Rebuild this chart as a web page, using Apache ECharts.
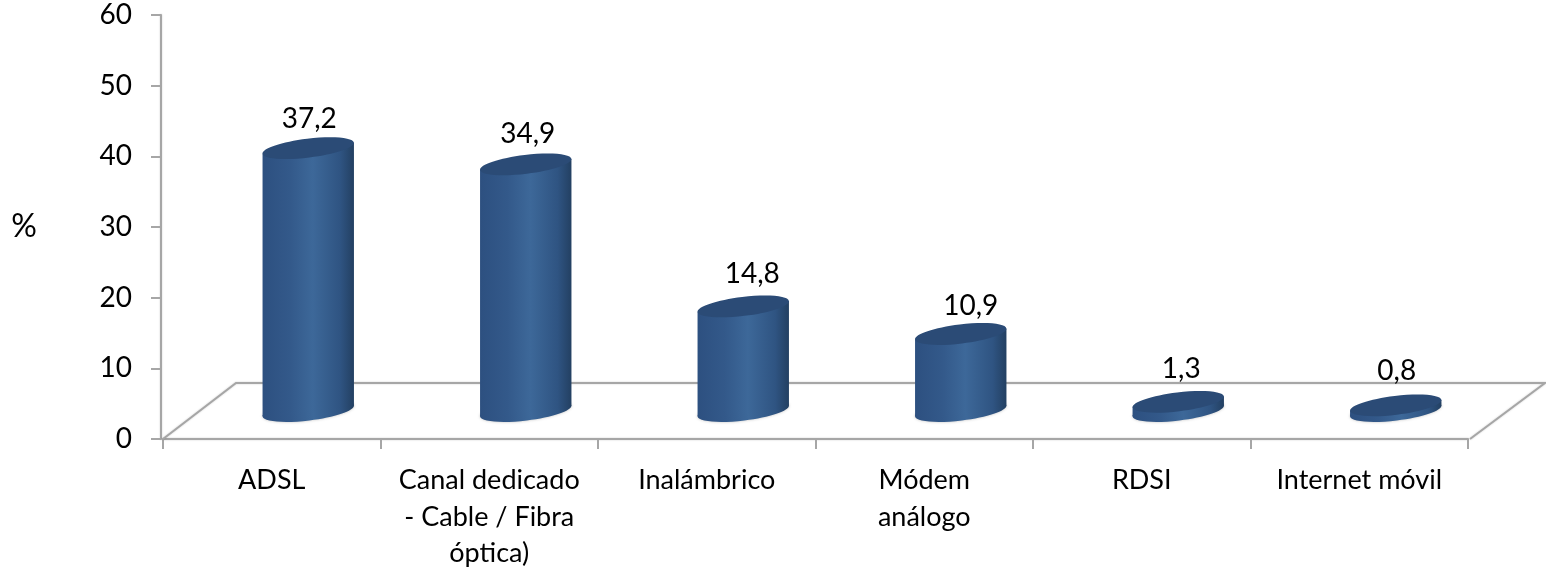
<!DOCTYPE html>
<html>
<head>
<meta charset="utf-8">
<style>
    html, body { margin: 0; padding: 0; background: #fff; }
    #myChart { width: 1546px; height: 570px; }
</style>
</head>
<body>
<div id="myChart"></div>
<script src="https://cdn.jsdelivr.net/npm/echarts@6/dist/echarts.min.js"></script>
<script>
const categories = ['ADSL', 'Canal dedicado\n- Cable / Fibra\nóptica)', 'Inalámbrico', 'Módem\nanálogo', 'RDSI', 'Internet móvil'];
const values = [37.2, 34.9, 14.8, 10.9, 1.3, 0.8];
const yTicks = { min: 0, max: 60, interval: 10 };

const fontName = 'Lato';
const axisColor = '#a6a6a6';
// depth of the fake 3d floor
const depthX = 73, depthY = 56;
const tilt = 0.12, rx = 46, ry = 9.5;
const sideX = 45.7, sideY = 5.3;
// hand placed value labels, the original has them a bit off centre
const labelNudgeX = [0, 1, 8, 9, 2, 0];
const labelNudgeY = [2, 1, -1, 3, -1, -3];

const Chart1 = echarts.init(document.getElementById('myChart'), null, { renderer: 'canvas' });

function bodyFill() {
    return new echarts.graphic.LinearGradient(0, 0, 1, 0, [
        { offset: 0, color: '#2d5080' },
        { offset: 0.3, color: '#33598a' },
        { offset: 0.55, color: '#3d6899' },
        { offset: 0.85, color: '#2f5482' },
        { offset: 1, color: '#234062' }
    ]);
}

function renderFloor(params) {
    const c = params.coordSys;
    const x0 = c.x, x1 = c.x + c.width, y0 = c.y + c.height;
    return {
        type: 'polyline',
        shape: {
            points: [[x0, y0], [x0 + depthX, y0 - depthY], [x1 + depthX + 4, y0 - depthY], [x1 + 2, y0]]
        },
        style: { fill: null, stroke: axisColor, lineWidth: 2, shadowBlur: 2, shadowColor: 'rgba(0,0,0,0.2)' }
    };
}

function renderCylinder(params, api) {
    const i = api.value(0);
    const top = api.coord([i, api.value(1)]);
    const base = api.coord([i, 0]);
    const cx = top[0] + depthX / 2;
    const topY = top[1] - depthY / 2;
    const baseY = base[1] - depthY / 2;
    const txt = String(api.value(1)).replace('.', ',');
    return {
        type: 'group',
        children: [
            {
                type: 'ellipse',
                shape: { cx: cx, cy: baseY, rx: rx, ry: ry },
                originX: cx,
                originY: baseY,
                rotation: tilt,
                style: { fill: bodyFill(), shadowBlur: 3, shadowColor: 'rgba(0,0,0,0.25)' }
            },
            {
                type: 'polygon',
                shape: {
                    points: [
                        [cx - sideX, topY + sideY],
                        [cx + sideX, topY - sideY],
                        [cx + sideX, baseY - sideY],
                        [cx - sideX, baseY + sideY]
                    ]
                },
                style: { fill: bodyFill() }
            },
            {
                type: 'ellipse',
                shape: { cx: cx, cy: topY, rx: rx, ry: ry },
                originX: cx,
                originY: topY,
                rotation: tilt,
                style: { fill: '#2b4b76' }
            },
            {
                type: 'text',
                style: {
                    text: txt,
                    x: cx + 1 + labelNudgeX[i],
                    y: topY - 31.5 + labelNudgeY[i],
                    textAlign: 'center',
                    textVerticalAlign: 'middle',
                    fontFamily: fontName,
                    fontSize: 28,
                    fill: '#000'
                }
            }
        ]
    };
}

const option1 = {
    animation: false,
    grid: { left: 163, right: 78, top: 15, bottom: 131, outerBoundsMode: 'none' },
    xAxis: [
        {
            type: 'category',
            data: categories,
            axisLine: { lineStyle: { color: axisColor, width: 2, shadowBlur: 2, shadowColor: 'rgba(0,0,0,0.2)' } },
            axisTick: { show: true, alignWithLabel: false, length: 10, lineStyle: { color: axisColor, width: 2 } },
            axisLabel: {
                interval: 0,
                margin: 23.5,
                color: '#000',
                fontFamily: fontName,
                fontSize: 27,
                lineHeight: 36.5
            }
        }
    ],
    yAxis: [
        {
            type: 'value',
            min: yTicks.min,
            max: yTicks.max,
            interval: yTicks.interval,
            offset: 2,
            name: '%',
            nameLocation: 'middle',
            nameRotate: 0,
            nameGap: 124,
            nameTextStyle: { color: '#000', fontFamily: fontName, fontSize: 32 },
            splitLine: { show: false },
            axisLine: { show: true, lineStyle: { color: axisColor, width: 2, shadowBlur: 2, shadowColor: 'rgba(0,0,0,0.2)' } },
            axisTick: { show: true, length: 10, lineStyle: { color: axisColor, width: 2 } },
            axisLabel: { margin: 29, color: '#000', fontFamily: fontName, fontSize: 28 }
        }
    ],
    series: [
        {
            type: 'custom',
            z: 1,
            silent: true,
            renderItem: renderFloor,
            data: [0]
        },
        {
            type: 'custom',
            z: 2,
            silent: true,
            encode: { x: 0, y: 1 },
            renderItem: renderCylinder,
            data: values.map((v, i) => [i, v])
        }
    ]
};
Chart1.setOption(option1);
</script>
</body>
</html>
